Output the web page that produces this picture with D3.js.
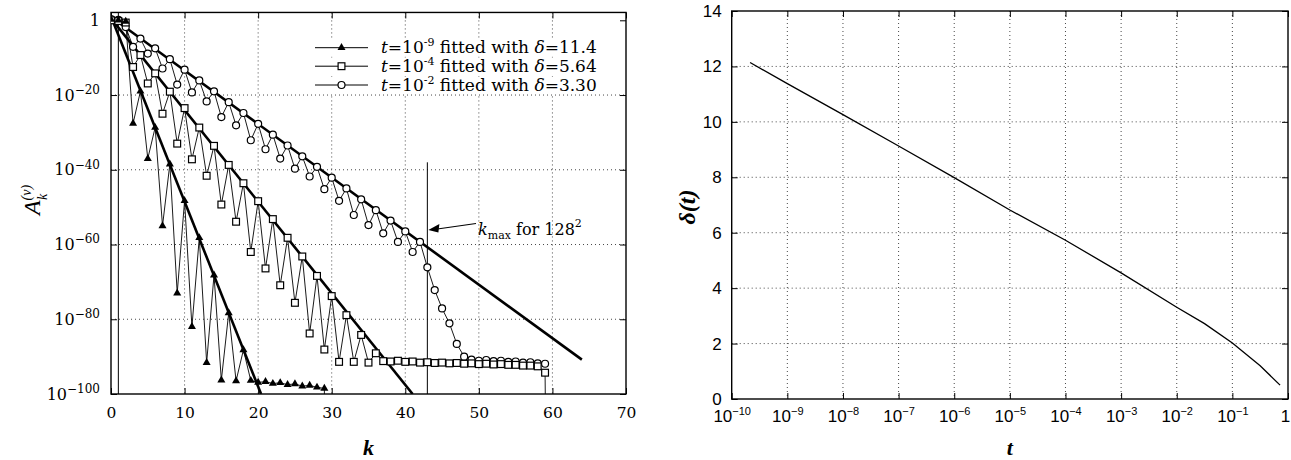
<!DOCTYPE html>
<html>
<head>
<meta charset="utf-8">
<script src="https://cdn.jsdelivr.net/npm/d3@7"></script>
<style>
  body { margin: 0; background: #fff; }
  svg { display: block; font-family: "Liberation Serif", "Times New Roman", serif; }
  .grid line { stroke: #333; stroke-dasharray: 1,3; stroke-width: 0.9; }
  .tick text { fill: #000; }
  .left text { font-family: "DejaVu Serif", serif; }
</style>
</head>
<body>
<div id="chart"></div>
<script>
// ---------- left panel: log10 A_k, one value per k = 0,1,2,...
const triVals = [0.2, 0, -0.3, -27.6, -19, -37, -28.7, -55, -38.5, -73, -48.3, -82, -58.2, -91.6,
  -68.2, -96.3, -78.3, -96.5, -88.2, -96.4, -96.9, -96.7, -97.2, -97.0, -97.5, -97.3, -97.9,
  -97.7, -98.2, -98.5, -300];
const sqVals = [0, -0.2, -0.6, -12.5, -9.3, -16.9, -14.2, -25, -19.1, -33, -23.5, -37.2, -28.7,
  -41.6, -33.6, -49.3, -38.7, -53.9, -43.6, -62, -48.4, -66.4, -53.2, -70.9, -58.2, -75.6, -63.2,
  -83.8, -68.4, -88.1, -73.8, -91.4, -78.9, -91.4, -84.2, -91.6, -89.1, -91.2, -91.3, -91.1,
  -91.4, -91.3, -91.6, -91.5, -91.7, -91.6, -91.8, -91.7, -91.9, -91.8, -92.0, -91.9, -92.1,
  -92.0, -92.2, -92.2, -92.4, -92.4, -92.6, -94.3, -300];
const circVals = [0.3, 0.1, -1.8, -7.1, -4.9, -8.9, -7.5, -12.9, -10.4, -17.2, -13.2, -19.3, -16.1,
  -21.7, -19, -25.9, -21.9, -28.1, -24.8, -32.1, -27.7, -34.5, -30.6, -37, -33.5, -39.7, -36.4,
  -41.8, -39.2, -45.2, -42.1, -48.3, -45, -52.1, -47.9, -54.8, -50.8, -57, -53.6, -59.3, -56.5,
  -62, -59.3, -66.1, -72.2, -77.1, -81.1, -86.6, -90, -90.8, -91.1, -90.9, -91.2, -91.1, -91.4,
  -91.3, -91.6, -91.5, -91.8, -91.9];

// fitted lines: [k, log10 A]
const fitTri = [[0, 1.0], [20.4, -100]];
const fitSq = [[0, 0.5], [41.0, -100]];
const fitCirc = [[0, 0.9], [64, -90.8]];

const legendT = ["-9", "-4", "-2"];
const legendDelta = ["11.4", "5.64", "3.30"];
const kmaxK = 43;

const kTicks = [0, 10, 20, 30, 40, 50, 60, 70];
const aTicks = [0, -20, -40, -60, -80, -100];

// ---------- right panel: delta(t)
const tVals = [2.14e-10, 1e-9, 1e-8, 1e-7, 1e-6, 1e-5, 1e-4, 1e-3, 1e-2, 3.16e-2, 1e-1, 3.16e-1, 0.72];
const deltaVals = [12.14, 11.38, 10.26, 9.13, 7.99, 6.82, 5.73, 4.55, 3.31, 2.72, 2.02, 1.2, 0.5];
const tTicks = [1e-10, 1e-9, 1e-8, 1e-7, 1e-6, 1e-5, 1e-4, 1e-3, 1e-2, 1e-1, 1];
const dTicks = [0, 2, 4, 6, 8, 10, 12, 14];

const width = 1291, height = 460;
const svg = d3.select("#chart").append("svg").attr("width", width).attr("height", height);

function supText(sel, base, exp, fs, sfs) {
  sel.text(null);
  sel.append("tspan").text(base);
  if (exp !== null) {
    sel.append("tspan").attr("dy", -0.42 * fs).attr("font-size", sfs).text(exp);
  }
}

// ================= LEFT PANEL =================
const aTop = 2.1;
const xL = d3.scaleLinear().domain([0, 70]).range([111, 626]);
const yL = d3.scaleLinear().domain([-100, 0]).range([394, 20.3]);
const L = svg.append("g").attr("class", "left");

// grid
const gridL = L.append("g").attr("class", "grid");
gridL.selectAll(".gx").data(kTicks.slice(1, -1)).join("line")
  .attr("x1", d => xL(d)).attr("x2", d => xL(d)).attr("y1", yL(aTop)).attr("y2", yL(-100));
gridL.selectAll(".gy").data(aTicks.slice(1, -1)).join("line")
  .attr("x1", xL(0)).attr("x2", xL(70)).attr("y1", d => yL(d)).attr("y2", d => yL(d));

// axes
L.append("g").attr("transform", `translate(0,${yL(-100)})`)
  .call(d3.axisBottom(xL).tickValues(kTicks).tickSize(-6).tickPadding(13))
  .selectAll(".tick text").attr("font-size", 15.5);
const axLft = L.append("g").attr("transform", `translate(${xL(0)},0)`)
  .call(d3.axisLeft(yL).tickValues(aTicks).tickSize(-6).tickPadding(11));
axLft.selectAll(".tick text").attr("font-size", 16).each(function (d) {
  if (d === 0) supText(d3.select(this), "1", null, 16, 12);
  else supText(d3.select(this), "10", "\u2212" + (-d), 16, 12);
});
L.append("g").attr("transform", `translate(0,${yL(aTop)})`)
  .call(d3.axisTop(xL).tickValues(kTicks).tickSize(-6).tickFormat(""));
L.append("g").attr("transform", `translate(${xL(70)},0)`)
  .call(d3.axisRight(yL).tickValues(aTicks).tickSize(-6).tickFormat(""));
L.selectAll(".domain").remove();
L.selectAll(".tick line").attr("stroke", "#000").attr("stroke-width", 1);
L.append("rect").attr("x", xL(0)).attr("y", yL(aTop))
  .attr("width", xL(70) - xL(0)).attr("height", yL(-100) - yL(aTop))
  .attr("fill", "none").attr("stroke", "#000").attr("stroke-width", 1.4);

svg.append("clipPath").attr("id", "clipL").append("rect")
  .attr("x", xL(0)).attr("y", yL(aTop)).attr("width", xL(70) - xL(0)).attr("height", yL(-100) - yL(aTop));
const plotL = L.append("g").attr("clip-path", "url(#clipL)");

// vertical reference lines at k=1 and k_max
plotL.append("line").attr("x1", xL(1)).attr("x2", xL(1)).attr("y1", yL(aTop)).attr("y2", yL(-100))
  .attr("stroke", "#000").attr("stroke-width", 1);
plotL.append("line").attr("x1", xL(kmaxK)).attr("x2", xL(kmaxK)).attr("y1", yL(-38)).attr("y2", yL(-100))
  .attr("stroke", "#000").attr("stroke-width", 1);

const lineK = d3.line().x((d, i) => xL(i)).y(d => yL(d));
const lineFit = d3.line().x(d => xL(d[0])).y(d => yL(d[1]));

[triVals, sqVals, circVals].forEach(vals => {
  plotL.append("path").attr("d", lineK(vals)).attr("fill", "none")
    .attr("stroke", "#000").attr("stroke-width", 0.9);
});
[fitTri, fitSq, fitCirc].forEach(f => {
  plotL.append("path").attr("d", lineFit(f)).attr("fill", "none")
    .attr("stroke", "#000").attr("stroke-width", 2.6);
});

const triSym = d3.symbol(d3.symbolTriangle, 28);
function drawMarkers(g, kind, x, y) {
  if (kind === "tri") {
    g.append("path").attr("d", triSym()).attr("transform", `translate(${x},${y})`).attr("fill", "#000");
  } else if (kind === "sq") {
    g.append("rect").attr("x", x - 3.4).attr("y", y - 3.4).attr("width", 6.8).attr("height", 6.8)
      .attr("fill", "#fff").attr("stroke", "#000").attr("stroke-width", 1.2);
  } else {
    g.append("circle").attr("cx", x).attr("cy", y).attr("r", 3.5)
      .attr("fill", "#fff").attr("stroke", "#000").attr("stroke-width", 1.2);
  }
}
const mk = plotL.append("g");
circVals.forEach((v, i) => drawMarkers(mk, "circ", xL(i), yL(v)));
sqVals.forEach((v, i) => { if (v > -100) drawMarkers(mk, "sq", xL(i), yL(v)); });
triVals.forEach((v, i) => { if (v > -100) drawMarkers(mk, "tri", xL(i), yL(v)); });

// legend
const kinds = ["tri", "sq", "circ"];
const legY = [47.7, 66.2, 85];
const leg = L.append("g");
kinds.forEach((kd, i) => {
  leg.append("rect").attr("x", 312).attr("y", legY[i] - 8).attr("width", 285).attr("height", 17).attr("fill", "#fff");
});
kinds.forEach((kd, i) => {
  const y = legY[i];
  leg.append("line").attr("x1", 315).attr("x2", 368).attr("y1", y).attr("y2", y)
    .attr("stroke", "#000").attr("stroke-width", 1);
  drawMarkers(leg, kd, 341.5, y);
  const t = leg.append("text").attr("x", 381).attr("y", y + 5.5).attr("font-size", 17);
  t.append("tspan").attr("font-style", "italic").text("t");
  t.append("tspan").text("=10");
  t.append("tspan").attr("dy", -7).attr("font-size", 11).text(legendT[i]);
  t.append("tspan").attr("dy", 7).text(" fitted with ");
  t.append("tspan").attr("font-style", "italic").text("\u03b4");
  t.append("tspan").text("=" + legendDelta[i]);
});

// k_max annotation
const ann = L.append("g");
const tipY = 230;
ann.append("line").attr("x1", 476).attr("y1", 223.5).attr("x2", xL(kmaxK) + 10).attr("y2", tipY - 1)
  .attr("stroke", "#000").attr("stroke-width", 1.2);
ann.append("path").attr("d", `M${xL(kmaxK) + 1},${tipY} l11,-6 l-1,8.5 z`).attr("fill", "#000");
const at = ann.append("text").attr("x", 478).attr("y", 235).attr("font-size", 16);
at.append("tspan").attr("font-style", "italic").text("k");
at.append("tspan").attr("dy", 4).attr("font-size", 11).text("max");
at.append("tspan").attr("dy", -4).text(" for 128");
at.append("tspan").attr("dy", -8).attr("font-size", 11).text("2");

// axis titles
L.append("text").attr("x", (xL(0) + xL(70)) / 2).attr("y", 455).attr("text-anchor", "middle")
  .attr("font-size", 22).attr("font-style", "italic").attr("font-weight", "bold")
  .style("font-family", "Liberation Serif, serif").text("k");
const yt = L.append("text").attr("transform", "translate(40,200) rotate(-90)")
  .attr("text-anchor", "middle").attr("font-size", 24).style("font-family", "Liberation Serif, serif");
yt.append("tspan").attr("font-style", "italic").text("A");
yt.append("tspan").attr("dy", -9).attr("font-size", 14).attr("font-style", "italic").text("(\u03bd)");
yt.append("tspan").attr("dx", -15).attr("dy", 16).attr("font-size", 14).attr("font-style", "italic").text("k");

// ================= RIGHT PANEL =================
const xR = d3.scaleLog().domain([1e-10, 1]).range([731.7, 1288]);
const yR = d3.scaleLinear().domain([0, 14]).range([399, 11]);
const R = svg.append("g");

const gridR = R.append("g").attr("class", "grid");
gridR.selectAll(".gx").data(tTicks.slice(1, -1)).join("line")
  .attr("x1", d => xR(d)).attr("x2", d => xR(d)).attr("y1", yR(14)).attr("y2", yR(0));
gridR.selectAll(".gy").data(dTicks.slice(1, -1)).join("line")
  .attr("x1", xR(1e-10)).attr("x2", xR(1)).attr("y1", d => yR(d)).attr("y2", d => yR(d));

const rB = R.append("g").attr("transform", `translate(0,${yR(0)})`)
  .call(d3.axisBottom(xR).tickValues(tTicks).tickSize(-6).tickPadding(11));
rB.selectAll(".tick text").attr("font-size", 17).each(function (d) {
  const e = Math.round(Math.log10(d));
  if (e === 0) supText(d3.select(this).attr("dx", -3), "1", null, 17, 11);
  else supText(d3.select(this), "10", "\u2212" + (-e), 17, 11);
});
R.append("g").attr("transform", `translate(${xR(1e-10)},0)`)
  .call(d3.axisLeft(yR).tickValues(dTicks).tickSize(-6).tickPadding(10))
  .selectAll(".tick text").attr("font-size", 17);
R.append("g").attr("transform", `translate(0,${yR(14)})`)
  .call(d3.axisTop(xR).tickValues(tTicks).tickSize(-6).tickFormat(""));
R.append("g").attr("transform", `translate(${xR(1)},0)`)
  .call(d3.axisRight(yR).tickValues(dTicks).tickSize(-6).tickFormat(""));
R.selectAll(".domain").remove();
R.selectAll(".tick line").attr("stroke", "#000");
R.append("rect").attr("x", xR(1e-10)).attr("y", yR(14))
  .attr("width", xR(1) - xR(1e-10)).attr("height", yR(0) - yR(14))
  .attr("fill", "none").attr("stroke", "#000").attr("stroke-width", 1.4);

R.append("path")
  .attr("d", d3.line().x((d, i) => xR(tVals[i])).y(d => yR(d))(deltaVals))
  .attr("fill", "none").attr("stroke", "#000").attr("stroke-width", 1.3);

R.append("text").attr("x", (xR(1e-10) + xR(1)) / 2).attr("y", 455).attr("text-anchor", "middle")
  .attr("font-size", 22).attr("font-style", "italic").attr("font-weight", "bold").text("t");
R.append("text").attr("transform", "translate(695,207) rotate(-90)").attr("text-anchor", "middle")
  .attr("font-size", 24).attr("font-style", "italic").attr("font-weight", "bold").text("\u03b4(t)");
</script>
</body>
</html>
